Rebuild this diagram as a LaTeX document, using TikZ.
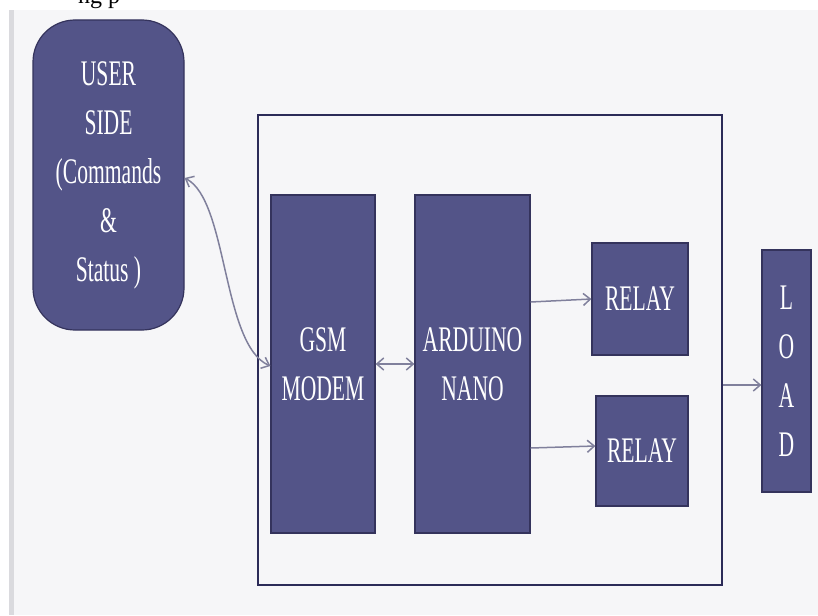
\documentclass[tikz,border=0pt]{standalone}
\usepackage{fontspec}
\setmainfont[FakeStretch=0.6]{Liberation Serif}
\newfontfamily\plainserif{Liberation Serif}
\usetikzlibrary{arrows.meta}
\definecolor{boxfill}{RGB}{83,84,136}
\definecolor{boxedge}{RGB}{52,51,92}
\definecolor{framecol}{RGB}{44,43,88}
\definecolor{arrowcol}{RGB}{128,128,156}
\definecolor{bgcol}{RGB}{246,246,248}
\definecolor{barcol}{RGB}{218,218,222}
\tikzset{
  blk/.style={draw=boxedge, line width=1.2pt, fill=boxfill, text=white, align=center,
    inner sep=0pt, font=\fontsize{36}{49}\selectfont},
  conn/.style={draw=arrowcol, line width=1.5pt, -{Straight Barb[length=7pt,width=12pt]}},
  biconn/.style={draw=arrowcol, line width=1.5pt, {Straight Barb[length=7pt,width=12pt]}-{Straight Barb[length=7pt,width=12pt]}}
}
\begin{document}
\begin{tikzpicture}[x=1pt,y=-1pt]
\useasboundingbox (0,0) rectangle (818,615);
\fill[white] (0,0) rectangle (818,615);
\fill[bgcol] (14,10) rectangle (818,615);
\fill[barcol] (9,10) rectangle (14,615);
\begin{scope}
\clip (0,0) rectangle (818,10);
\node[anchor=base west, inner sep=0pt, font=\plainserif\fontsize{24}{24}\selectfont] (frag) at (78,4) {ng p};
\end{scope}
% outer frame
\node[draw=framecol, line width=2.6pt, minimum width=464pt, minimum height=470pt, inner sep=0pt] (frame) at (490,350) {};
% blocks
\node[blk, rounded corners=42pt, minimum width=151pt, minimum height=310pt] (user) at (108.5,175) {USER\\SIDE\\(Commands\\\&\\Status )};
\node[blk, minimum width=104pt, minimum height=338pt] (gsm) at (323,364) {GSM\\MODEM};
\node[blk, minimum width=115pt, minimum height=338pt] (ard) at (472.5,364) {ARDUINO\\NANO};
\node[blk, minimum width=96pt, minimum height=112pt] (relay1) at (640,299) {RELAY};
\node[blk, minimum width=92pt, minimum height=110pt] (relay2) at (642,451) {RELAY};
\node[blk, minimum width=49pt, minimum height=242pt] (load) at (786.5,371) {L\\O\\A\\D};
% connectors
\draw[biconn] ([yshift=-3pt]user.east) .. controls (228,200) and (222,345) .. ([yshift=-2pt]gsm.west);
\draw[biconn] (gsm.east) -- (ard.west);
\draw[conn] ([yshift=62pt]ard.east) -- (relay1.west);
\draw[conn] ([yshift=-84pt]ard.east) -- ([yshift=5pt]relay2.west);
\draw[conn] ([yshift=-35pt]frame.east) -- ([yshift=-14pt]load.west);
\end{tikzpicture}
\end{document}
